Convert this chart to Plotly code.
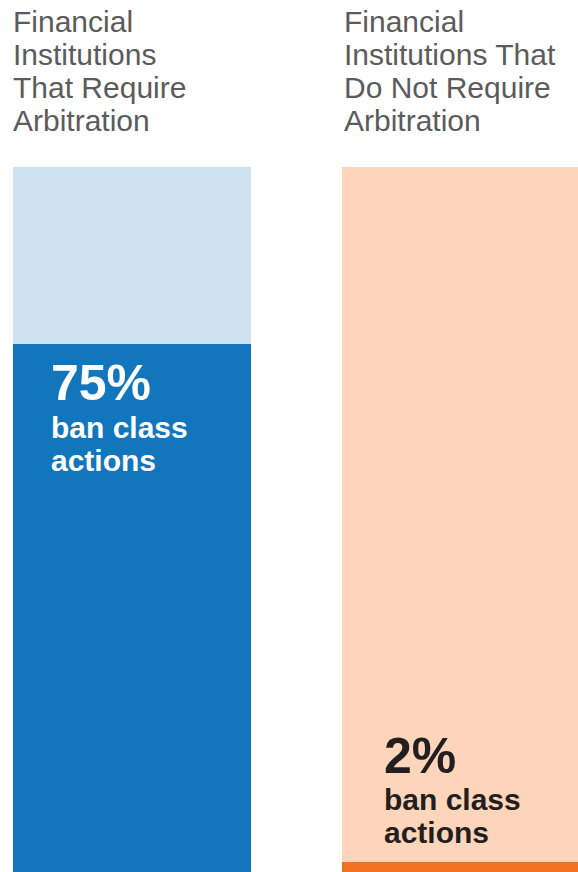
import plotly.graph_objects as go

# Share of institutions whose agreements ban class actions
groups = ["require", "no_require"]
ban_share = [75, 2]
total = 100
title_lines = [
    ["Financial", "Institutions", "That Require", "Arbitration"],
    ["Financial", "Institutions That", "Do Not Require", "Arbitration"],
]
value_labels = ["75%", "2%"]
label_sub = ["ban class", "actions"]

fill_colors = ["#1276bc", "#f37021"]
rest_colors = ["#cfe2f3", "#fdd5bb"]
label_colors = ["#ffffff", "#231f20"]
title_color = "#5b5b5b"

W, H = 578, 872
TOP = 167
BAR_W = 0.7234
xs = list(range(len(groups)))

fig = go.Figure()
fig.add_trace(go.Bar(
    x=xs, y=ban_share, width=BAR_W,
    marker=dict(color=fill_colors, line=dict(color="white", width=[0, 1.5])),
    hoverinfo="skip",
))
fig.add_trace(go.Bar(
    x=xs, y=[total - v for v in ban_share], width=BAR_W,
    marker=dict(color=rest_colors, line=dict(width=0)),
    hoverinfo="skip",
))

annotations = []
font_reg = "Liberation Sans, Arial, sans-serif"
title_x_shift = [0, 2]
for i, lines in enumerate(title_lines):
    left = xs[i] - BAR_W / 2
    for k, line in enumerate(lines):
        annotations.append(dict(
            x=left, xref="x", xanchor="left", xshift=title_x_shift[i],
            y=1, yref="paper", yanchor="middle", yshift=TOP - (21 + 33 * k),
            text=line, showarrow=False, borderpad=0, borderwidth=0,
            font=dict(family=font_reg, size=30, color=title_color),
        ))

label_x_shift = [38, 42]
for i, v in enumerate(ban_share):
    left = xs[i] - BAR_W / 2
    # big values sit inside the bar, tiny ones sit above it
    base_shift = -39 if v > 20 else 106
    annotations.append(dict(
        x=left, xref="x", xanchor="left", xshift=label_x_shift[i],
        y=v, yref="y", yanchor="middle", yshift=base_shift,
        text=value_labels[i], showarrow=False, borderpad=0, borderwidth=0,
        font=dict(family=font_reg, size=50, color=label_colors[i], weight="bold"),
    ))
    for k, line in enumerate(label_sub):
        annotations.append(dict(
            x=left, xref="x", xanchor="left", xshift=label_x_shift[i],
            y=v, yref="y", yanchor="middle", yshift=base_shift - 44 - 33 * k,
            text=line, showarrow=False, borderpad=0, borderwidth=0,
            font=dict(family=font_reg, size=30, color=label_colors[i], weight="bold"),
        ))

px_per_unit = (876 - TOP) / total
y_low = total - (H - TOP) / px_per_unit
left_px, step_px = 132, 329

fig.update_layout(
    width=W, height=H,
    margin=dict(l=0, r=0, t=TOP, b=0, pad=0),
    barmode="stack", bargap=0,
    showlegend=False,
    paper_bgcolor="white", plot_bgcolor="white",
    xaxis=dict(visible=False, range=[-left_px / step_px, 1 + (W - 461) / step_px], fixedrange=True),
    yaxis=dict(visible=False, range=[y_low, total], fixedrange=True),
    annotations=annotations,
)

fig.write_html("out.html", config={"displayModeBar": False})
